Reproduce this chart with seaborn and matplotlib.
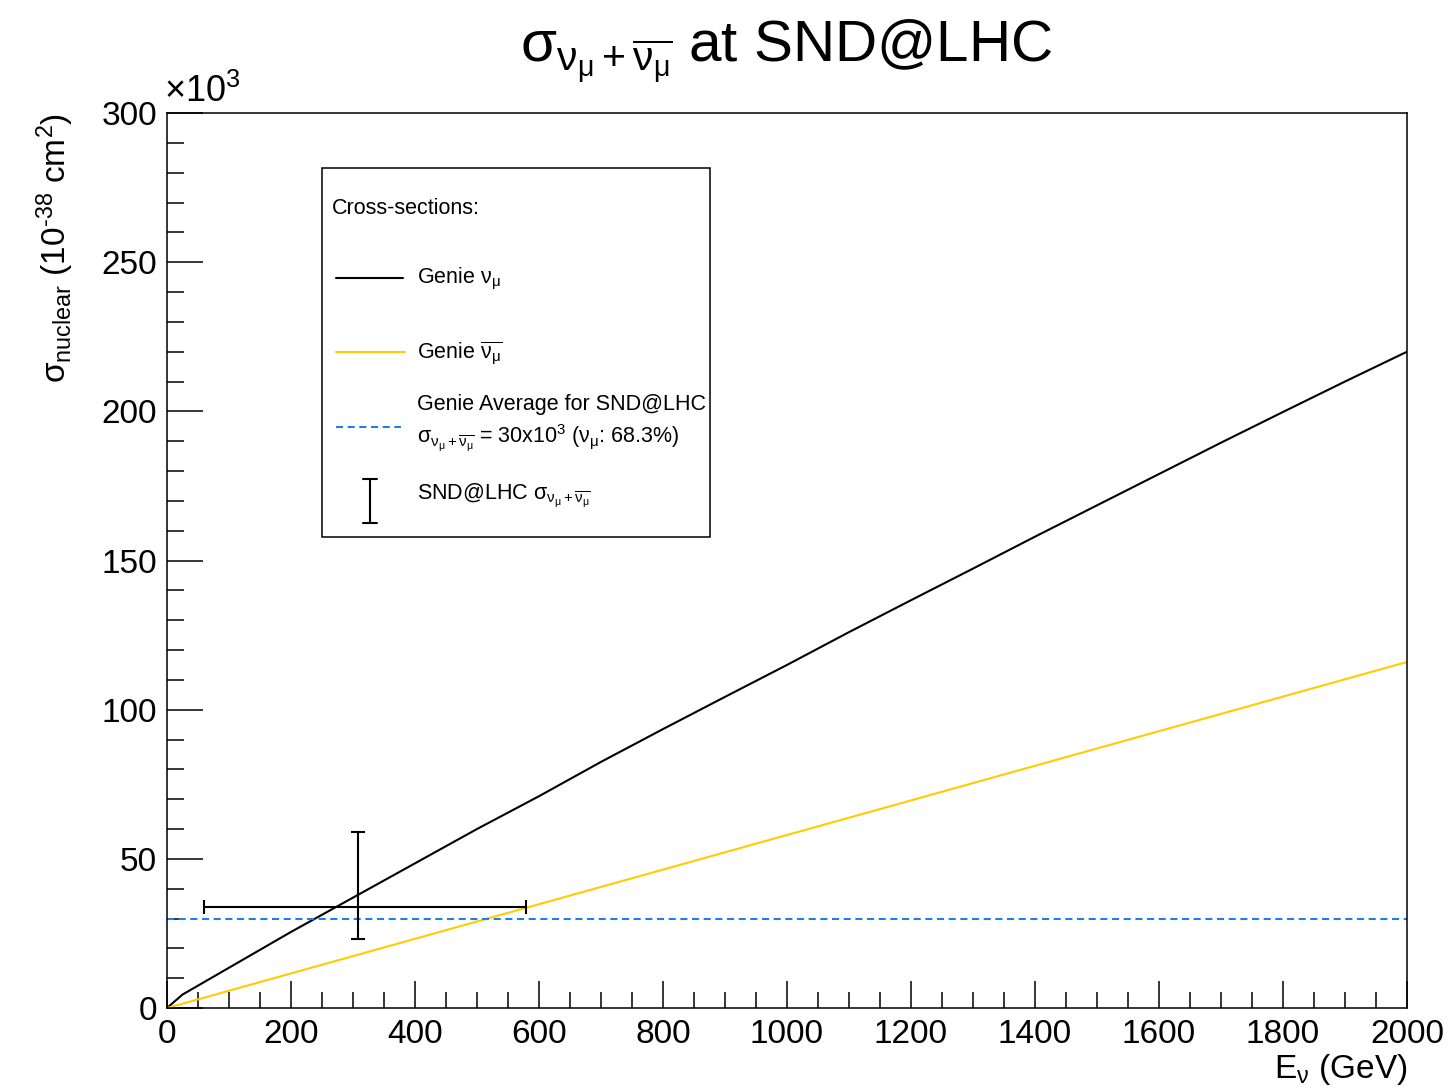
import matplotlib
matplotlib.use("Agg")
import matplotlib.pyplot as plt
from matplotlib.patches import Rectangle
from matplotlib.ticker import MultipleLocator
import seaborn as sns

# Genie nu_mu cross-section (x10^3, 10^-38 cm^2) vs neutrino energy (GeV)
energy_numu = [0, 25, 100, 200, 300, 400, 500, 600, 700, 800, 900, 1000,
               1100, 1200, 1300, 1400, 1500, 1600, 1700, 1800, 1900, 2000]
xsec_numu = [0, 4.5, 13.5, 25.5, 37, 48.5, 60, 71, 82.5, 93.5, 104.3, 115,
             126, 136.7, 147.3, 158, 168.5, 179, 189.5, 199.8, 210, 220]

# Genie anti-nu_mu cross-section
energy_nubar = [0, 500, 1000, 1500, 2000]
xsec_nubar = [0, 29, 58, 87, 116]

# Genie average for SND@LHC
genie_average = 30
numu_fraction = 68.3

# SND@LHC measurement
snd_energy = 308
snd_energy_err = [248, 271]   # low, high
snd_xsec = 34
snd_xsec_err = [11, 25]       # low, high

sns.set_theme(style="ticks")
plt.rcParams["font.family"] = ["Liberation Sans", "DejaVu Sans"]
plt.rcParams["mathtext.fontset"] = "custom"
plt.rcParams["mathtext.rm"] = "Liberation Sans"
plt.rcParams["mathtext.it"] = "Liberation Sans"
plt.rcParams["mathtext.bf"] = "Liberation Sans:bold"
plt.rcParams["mathtext.default"] = "regular"
plt.rcParams["text.color"] = "black"

fig = plt.figure(figsize=(14.48, 10.90), dpi=100)
ax = fig.add_axes([0.1153, 0.0752, 0.8564, 0.8211])

sns.lineplot(x=energy_numu, y=xsec_numu, color="black", lw=1.5, ax=ax)
sns.lineplot(x=energy_nubar, y=xsec_nubar, color="#FFCC00", lw=1.5, ax=ax)
ax.axhline(genie_average, color="#1f7fe6", lw=1.5, dashes=(3.4, 2.2))
ax.errorbar(snd_energy, snd_xsec,
            xerr=[[snd_energy_err[0]], [snd_energy_err[1]]],
            yerr=[[snd_xsec_err[0]], [snd_xsec_err[1]]],
            fmt="none", ecolor="black", elinewidth=1.5, capsize=5, capthick=1.5)

ax.set_xlim(0, 2000)
ax.set_ylim(0, 300)
ax.xaxis.set_major_locator(MultipleLocator(200))
ax.xaxis.set_minor_locator(MultipleLocator(50))
ax.yaxis.set_major_locator(MultipleLocator(50))
ax.yaxis.set_minor_locator(MultipleLocator(10))
ax.tick_params(axis="x", which="major", direction="in", length=19.5, width=1.1,
               labelsize=24, pad=8, colors="black", top=False)
ax.tick_params(axis="x", which="minor", direction="in", length=11.5, width=1.1,
               colors="black", top=False)
ax.tick_params(axis="y", which="major", direction="in", length=26, width=1.1,
               labelsize=24, pad=7, colors="black", right=False)
ax.tick_params(axis="y", which="minor", direction="in", length=12, width=1.1,
               colors="black", right=False)
for sp in ax.spines.values():
    sp.set_visible(True)
    sp.set_color("black")
    sp.set_linewidth(1.1)

# titles
fig.text(0.543, 0.943, r"$\sigma_{\nu_{\mu} + \overline{\nu_{\mu}}}$ at SND@LHC",
         fontsize=42, ha="center", va="baseline")
fig.text(0.9717, 0.011, r"E$_{\nu}$ (GeV)", fontsize=24, ha="right", va="baseline")
fig.text(0.0456, 0.8963, r"$\sigma_{nuclear}$ (10$^{\text{-}38}$ cm$^{2}$)", fontsize=24,
         rotation=90, rotation_mode="anchor", ha="right", va="baseline")
ax.text(-0.002, 1.003, r"$\times$10$^{3}$", transform=ax.transAxes, fontsize=26,
        ha="left", va="bottom")

# legend box
ax.add_patch(Rectangle((0.125, 0.5263), 0.3129, 0.4122, transform=ax.transAxes,
                       facecolor="white", edgecolor="black", lw=1.1, zorder=5))
kw = dict(transform=ax.transAxes, fontsize=15.5, ha="left", va="baseline", zorder=6)
ax.text(0.1331, 0.887, "Cross-sections:", **kw)
ax.plot([0.1363, 0.1903], [0.8156, 0.8156], color="black", lw=1.5,
        transform=ax.transAxes, zorder=6)
ax.text(0.2016, 0.810, r"Genie $\nu_{\mu}$", **kw)
ax.plot([0.1363, 0.1919], [0.733, 0.733], color="#FFCC00", lw=1.5,
        transform=ax.transAxes, zorder=6)
ax.text(0.2016, 0.7263, r"Genie $\overline{\nu_{\mu}}$", **kw)
ax.plot([0.1363, 0.1887], [0.649, 0.649], color="#1f7fe6", lw=1.5, dashes=(3.4, 2.2),
        transform=ax.transAxes, zorder=6)
ax.text(0.2016, 0.668, "Genie Average for SND@LHC", **kw)
ax.text(0.2016, 0.632,
        r"$\sigma_{\nu_{\mu}+\overline{\nu_{\mu}}}$ = %dx10$^{3}$ ($\nu_{\mu}$: %.1f%%)"
        % (genie_average, numu_fraction), **kw)
ax.plot([0.1637, 0.1637], [0.542, 0.591], color="black", lw=1.5,
        transform=ax.transAxes, zorder=6)
ax.plot([0.158, 0.1694], [0.591, 0.591], color="black", lw=1.5,
        transform=ax.transAxes, zorder=6)
ax.plot([0.158, 0.1694], [0.542, 0.542], color="black", lw=1.5,
        transform=ax.transAxes, zorder=6)
ax.text(0.2016, 0.5676, r"SND@LHC $\sigma_{\nu_{\mu}+\overline{\nu_{\mu}}}$", **kw)

fig.savefig("out.png", dpi=100)
